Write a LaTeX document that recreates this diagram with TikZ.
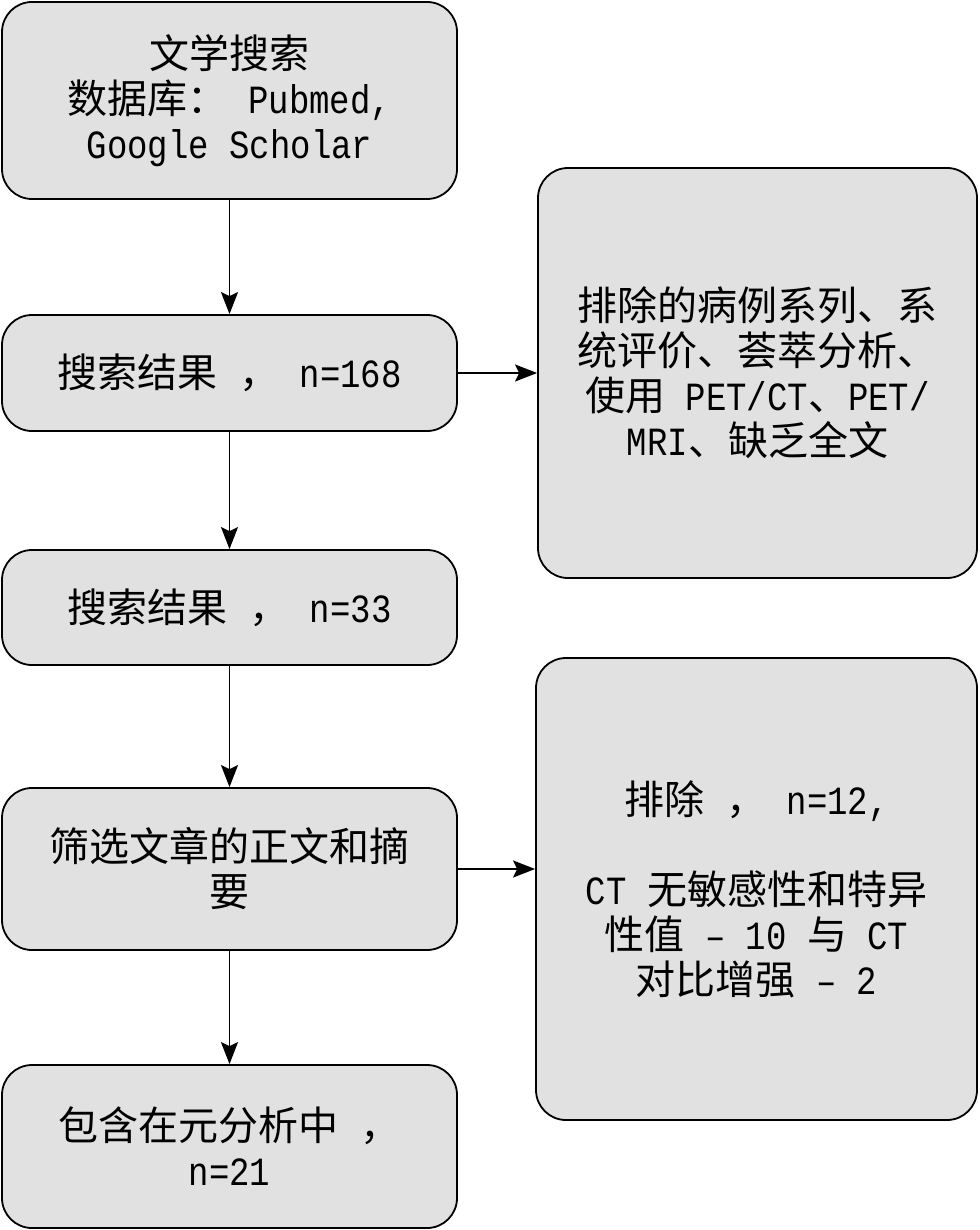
\documentclass[tikz,border=0pt]{standalone}
\usepackage{fontspec}
\setmainfont{Liberation Mono}[FakeStretch=0.85]
\newfontfamily\cjk{Noto Sans CJK SC}
\newcommand{\zh}[1]{{\cjk #1}}
\newcommand{\gap}{\hspace{22pt}}
\usetikzlibrary{arrows.meta}
\definecolor{boxgray}{RGB}{225,225,225}
\tikzset{
  box/.style={draw=black, fill=boxgray, line width=1.8pt, rounded corners=30pt,
    align=center, inner sep=0pt, font=\fontsize{40}{45}\selectfont},
  arr/.style={line width=1.8pt, -{Stealth[length=22pt,width=17pt,inset=4pt]}}
}
\begin{document}
\begin{tikzpicture}[x=1pt,y=-1pt]
\useasboundingbox (0,0) rectangle (979,1230);
\node[box, minimum width=455pt, minimum height=197pt] (b1) at (229.5,100.5)
  {\zh{文学搜索}\\\zh{数据库：} Pubmed,\\Google Scholar};
\node[box, minimum width=455pt, minimum height=116pt] (b2) at (229.5,373)
  {\zh{搜索结果\gap ，} n=168};
\node[box, minimum width=455pt, minimum height=115pt] (b3) at (229.5,607.5)
  {\zh{搜索结果\gap ，} n=33};
\node[box, minimum width=455pt, minimum height=162pt] (b4) at (229.5,869)
  {\zh{筛选文章的正文和摘}\\\zh{要}};
\node[box, minimum width=455pt, minimum height=163pt] (b5) at (229.5,1146.5)
  {\zh{包含在元分析中\gap ，}\\n=21};
\node[box, minimum width=439pt, minimum height=410pt] (r1) at (757.5,373)
  {\zh{排除的病例系列、系}\\\zh{统评价、荟萃分析、}\\\zh{使用} PET/CT\zh{、}PET/\\MRI\zh{、缺乏全文}};
\node[box, minimum width=441pt, minimum height=462pt] (r2) at (756.5,889)
  {\zh{排除\gap ，} n=12,\\[45pt]CT \zh{无敏感性和特异}\\\zh{性值} – 10 \zh{与} CT\\\zh{对比增强} – 2};
\draw[arr] (b1.south) -- (b2.north);
\draw[arr] (b2.south) -- (b3.north);
\draw[arr] (b3.south) -- (b4.north);
\draw[arr] (b4.south) -- (b5.north);
\draw[arr] (b2.east) -- (r1.west);
\draw[arr] (b4.east) -- (b4.east -| r2.west);
\end{tikzpicture}
\end{document}
